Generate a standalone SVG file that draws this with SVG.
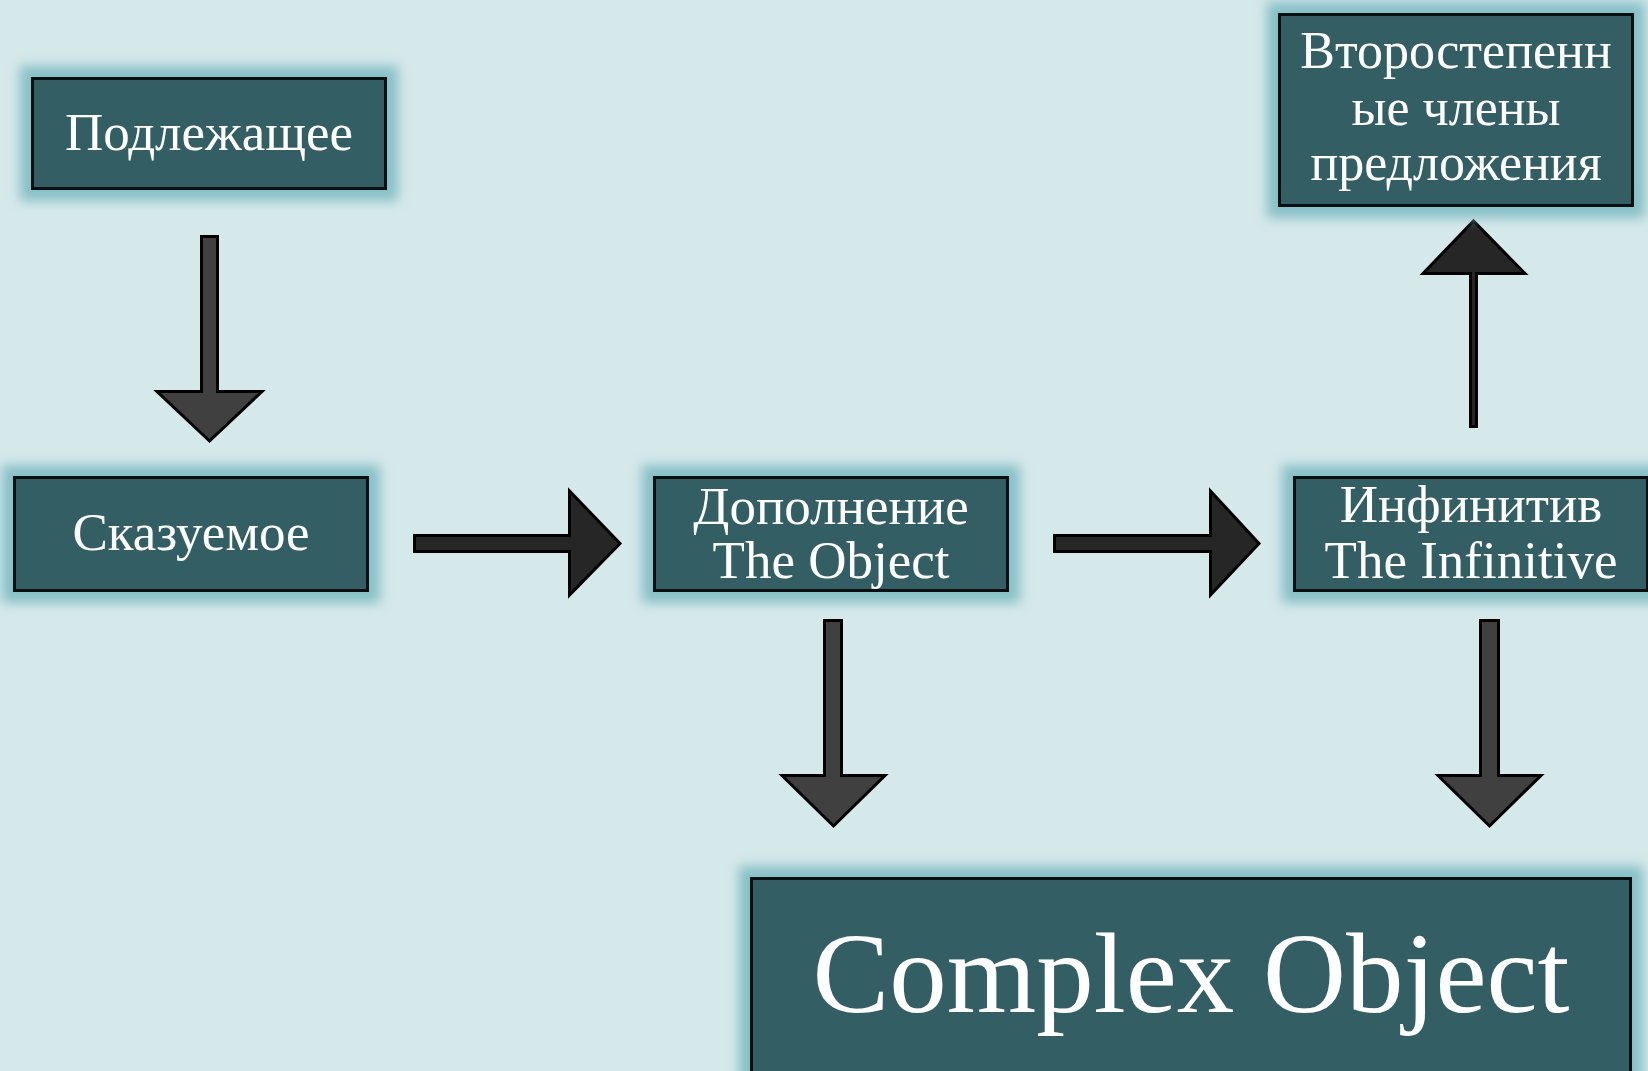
<svg xmlns="http://www.w3.org/2000/svg" width="1648" height="1071" viewBox="0 0 1648 1071">
<defs>
<filter id="glow" x="-20%" y="-30%" width="140%" height="160%">
<feGaussianBlur stdDeviation="6"/>
</filter>
<style>
.halo{fill:#86c0c6;filter:url(#glow)}
.box{fill:#335f64;stroke:#0b0f10;stroke-width:3}
.t{font-family:"Liberation Serif","Times New Roman",serif;fill:#ffffff;text-anchor:middle;font-size:53px}
.big{font-size:115px}
.arD{fill:#404040;stroke:#000;stroke-width:3;stroke-linejoin:miter}
.arR{fill:#262626;stroke:#000;stroke-width:3;stroke-linejoin:miter}
</style>
</defs>
<rect width="1648" height="1071" fill="#d5e8ea"/>
<g id="connectors">
<path class="arD" d="M201.5,236.5 H217.5 V391.5 H262 L209.5,441 L157,391.5 H201.5 Z"/>
<path class="arR" d="M414.5,535.5 H569.5 V491 L620,543.5 L569.5,595 V551.5 H414.5 Z"/>
<path class="arR" d="M1054.5,535.5 H1210.5 V491 L1259,543.5 L1210.5,595 V551.5 H1054.5 Z"/>
<path class="arD" d="M824.5,620.5 H841.5 V775.5 H885 L833.5,826 L782,775.5 H824.5 Z"/>
<path class="arD" d="M1480.5,620.5 H1498.5 V775.5 H1541 L1489.5,826 L1438,775.5 H1480.5 Z"/>
<path class="arR" d="M1470.5,426.5 V273.5 H1423 L1473.5,221 L1525,273.5 H1476.5 V426.5 Z"/>
</g>
<g id="node-podlezhashchee">
<rect class="halo" x="20" y="66" width="378" height="135"/>
<rect class="box" x="32.5" y="78.5" width="353" height="110"/>
<text class="t" x="209" y="150">Подлежащее</text>
</g>
<g id="node-skazuemoe">
<rect class="halo" x="2" y="465" width="378" height="138"/>
<rect class="box" x="14.5" y="477.5" width="353" height="113"/>
<text class="t" x="191" y="550">Сказуемое</text>
</g>
<g id="node-dopolnenie">
<rect class="halo" x="642" y="465" width="378" height="138"/>
<rect class="box" x="654.5" y="477.5" width="353" height="113"/>
<text class="t" x="831" y="524">Дополнение</text>
<text class="t" x="831" y="578">The Object</text>
</g>
<g id="node-vtorostepennye">
<rect class="halo" x="1267" y="2" width="378" height="216"/>
<rect class="box" x="1279.5" y="14.5" width="353" height="191"/>
<text class="t" x="1456" y="68" style="font-size:52px">Второстепенн</text>
<text class="t" x="1456" y="125" style="font-size:52px">ые члены</text>
<text class="t" x="1456" y="180" style="font-size:52px">предложения</text>
</g>
<g id="node-infinitiv">
<rect class="halo" x="1282" y="465" width="378" height="138"/>
<rect class="box" x="1294.5" y="477.5" width="353" height="113"/>
<text class="t" x="1471" y="522">Инфинитив</text>
<text class="t" x="1471" y="578">The Infinitive</text>
</g>
<g id="node-complex-object">
<rect class="halo" x="739" y="866" width="904" height="226"/>
<rect class="box" x="751.5" y="878.5" width="879" height="200"/>
<text class="t big" x="1191" y="1012">Complex Object</text>
</g>
</svg>
